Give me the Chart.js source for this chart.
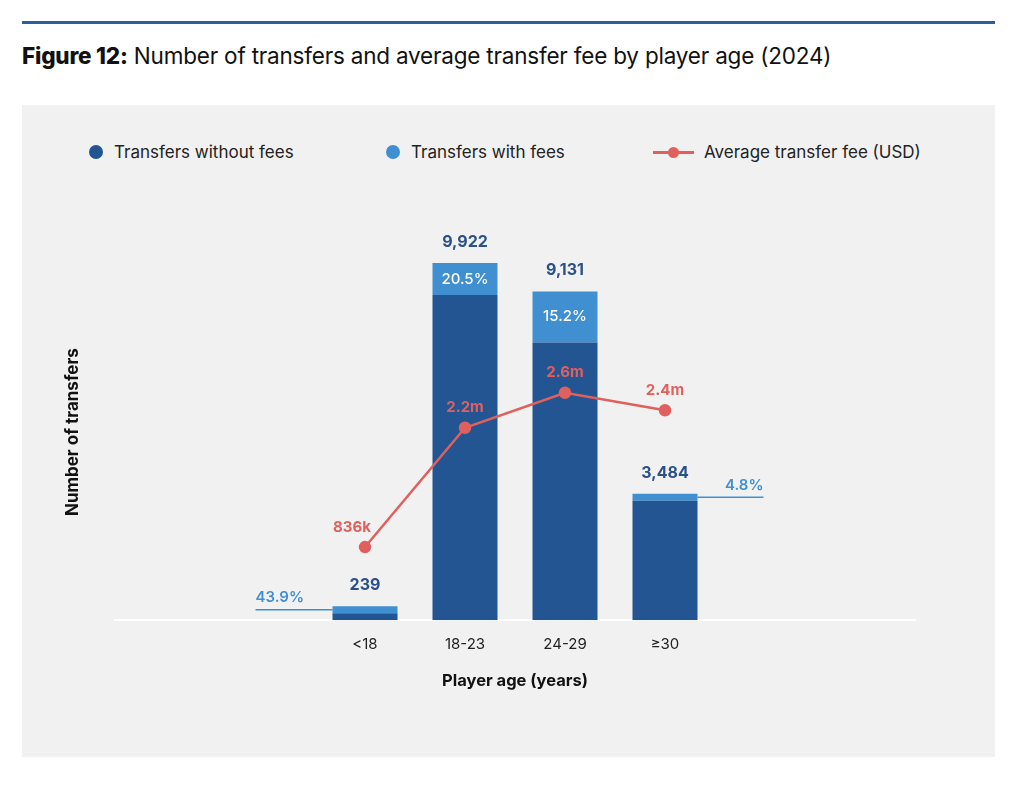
<!DOCTYPE html>
<html>
<head>
<meta charset="utf-8">
<script src="https://cdn.jsdelivr.net/npm/chart.js@4.4.1/dist/chart.umd.min.js"></script>
<style>
  body { margin: 0; background: #fff; font-family: Inter, "Noto Sans", sans-serif; }
  #rule { position: absolute; left: 22px; top: 21px; width: 973px; height: 3px; background: #2f5e9c; }
  #title { position: absolute; left: 22px; top: 42px; font-size: 22.5px; color: #111; letter-spacing: -0.2px; }
  #title b { font-weight: 800; }
  #panel { position: absolute; left: 22px; top: 105px; width: 973px; height: 652px; background: #f1f1f1; }
  #panel canvas { position: absolute; left: 0; top: 0; }
  .lg { position: absolute; top: 37px; height: 20px; display: flex; align-items: center; font-size: 17px; color: #222; }
  .dot { width: 14px; height: 14px; border-radius: 50%; margin-right: 11px; }
  .ln { position: relative; width: 41px; height: 3px; background: #e0605e; margin-right: 10px; }
  .ln span { position: absolute; left: 15px; top: -4px; width: 11px; height: 11px; border-radius: 50%; background: #e0605e; }
</style>
</head>
<body>
<div id="rule"></div>
<div id="title"><b>Figure 12:</b> Number of transfers and average transfer fee by player age (2024)</div>
<div id="panel">
  <div class="lg" style="left:67px"><div class="dot" style="background:#235592"></div>Transfers without fees</div>
  <div class="lg" style="left:364px"><div class="dot" style="background:#408fd1"></div>Transfers with fees</div>
  <div class="lg" style="left:631px"><div class="ln"><span></span></div>Average transfer fee (USD)</div>
  <canvas id="chart" width="973" height="652"></canvas>
</div>
<script>
// data
const categories = ['<18', '18-23', '24-29', '≥30'];
const withoutFees = [134, 9033, 7716, 3317];
const withFees = [105, 889, 1415, 167];
const feeShareLabels = ['43.9%', '20.5%', '15.2%', '4.8%'];
const avgFee = [836000, 2200000, 2600000, 2400000];
const avgFeeLabels = ['836k', '2.2m', '2.6m', '2.4m'];

// empty slots either side so the bars sit where they do in the report
const PAD = 2;
function pad(arr, fill) {
  const f = Array(PAD).fill(fill);
  return f.concat(arr, f);
}

const DARK = '#235592';
const LIGHT = '#408fd1';
const RED = '#e0605e';

const valueLabels = {
  id: 'valueLabels',
  afterDatasetsDraw(chart) {
    const ctx = chart.ctx;
    const high = chart.getDatasetMeta(1).data;
    const pts = chart.getDatasetMeta(2).data;
    ctx.save();
    ctx.textBaseline = 'middle';
    categories.forEach((c, k) => {
      const i = k + PAD;
      const bar = high[i];
      const total = withoutFees[k] + withFees[k];

      // total on top
      ctx.textAlign = 'center';
      ctx.fillStyle = '#2a5189';
      ctx.font = 'bold 16px Inter, sans-serif';
      ctx.fillText(total.toLocaleString('en-US'), bar.x, bar.y - 21);

      // share with fees
      const segH = bar.base - bar.y;
      const midY = (bar.base + bar.y) / 2;
      if (segH > 20) {
        ctx.fillStyle = '#fff';
        ctx.font = '500 15px Inter, sans-serif';
        ctx.fillText(feeShareLabels[k], bar.x, midY);
      } else {
        const half = bar.width / 2;
        ctx.strokeStyle = LIGHT;
        ctx.fillStyle = LIGHT;
        ctx.lineWidth = 1.5;
        ctx.font = '600 15px Inter, sans-serif';
        ctx.beginPath();
        if (k === 0) {
          ctx.moveTo(bar.x - half, midY);
          ctx.lineTo(bar.x - half - 77, midY);
          ctx.stroke();
          ctx.textAlign = 'left';
          ctx.fillText(feeShareLabels[k], bar.x - half - 77, midY - 12);
        } else {
          ctx.moveTo(bar.x + half, midY);
          ctx.lineTo(bar.x + half + 66, midY);
          ctx.stroke();
          ctx.textAlign = 'right';
          ctx.fillText(feeShareLabels[k], bar.x + half + 66, midY - 12);
        }
      }

      // average fee (first one nudged left, off the rising line)
      const p = pts[i];
      ctx.textAlign = 'center';
      ctx.fillStyle = RED;
      ctx.font = 'bold 15px Inter, sans-serif';
      ctx.fillText(avgFeeLabels[k], p.x - (k === 0 ? 13 : 0), p.y - 20);
    });
    ctx.restore();
  }
};

Chart.defaults.font.family = 'Inter, "Noto Sans", sans-serif';

new Chart(document.getElementById('chart'), {
  data: {
    labels: pad(categories, ''),
    datasets: [
      {
        type: 'bar',
        label: 'Transfers without fees',
        data: pad(withoutFees, null),
        backgroundColor: DARK,
        minBarLength: 7,
        order: 1
      },
      {
        type: 'bar',
        label: 'Transfers with fees',
        data: pad(withFees, null),
        backgroundColor: LIGHT,
        minBarLength: 7,
        order: 1
      },
      {
        type: 'line',
        label: 'Average transfer fee (USD)',
        data: pad(avgFee, null),
        yAxisID: 'y2',
        borderColor: RED,
        backgroundColor: RED,
        borderWidth: 2.5,
        pointRadius: 5,
        pointHoverRadius: 5,
        order: 0
      }
    ]
  },
  options: {
    responsive: false,
    animation: false,
    barPercentage: 0.65,
    categoryPercentage: 1,
    layout: { padding: { left: 41, right: 80, top: 139, bottom: 66 } },
    plugins: {
      legend: { display: false },
      tooltip: { enabled: false }
    },
    scales: {
      x: {
        stacked: true,
        grid: { display: false, drawTicks: false },
        border: { display: true, color: '#ffffff', width: 2 },
        ticks: { color: '#222', font: { size: 15 }, padding: 15 },
        title: {
          display: true,
          text: 'Player age (years)',
          color: '#111',
          font: { size: 16.5, weight: 'bold' },
          padding: { top: 3, bottom: 0 }
        }
      },
      y: {
        stacked: true,
        min: 0,
        max: 10450,
        grid: { display: false, drawTicks: false },
        border: { display: false },
        ticks: { display: false },
        title: {
          display: true,
          text: 'Number of transfers',
          color: '#111',
          font: { size: 17, weight: 'bold' },
          padding: { top: 0, bottom: 31.6 }
        }
      },
      y2: {
        display: false,
        position: 'right',
        min: 0,
        max: 4300000
      }
    }
  },
  plugins: [valueLabels]
});
</script>
</body>
</html>
